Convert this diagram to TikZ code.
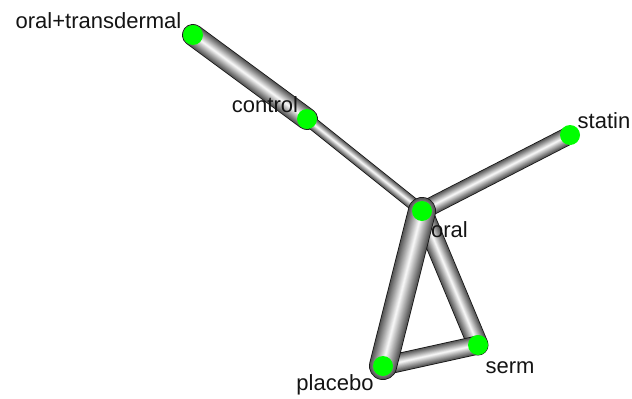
\documentclass[tikz,border=0pt]{standalone}
\usepackage{fontspec}
\setmainfont{Liberation Sans}
\pgfdeclarelayer{background}
\pgfsetlayers{background,main}

% A shaded tube between two named nodes: dark rim, then lighter and
% narrower strokes towards a bright centre line.
\newcommand\tubeedge[3]{%
  \begin{pgfonlayer}{background}
    \draw[tuberim, line width=#3pt] (#1.center) -- (#2.center);
    \foreach \k in {0,...,15}{%
      \pgfmathsetmacro\ww{(#3-1.6)*(1-\k/16)}%
      \pgfmathsetmacro\cc{34+\k*4.1}%
      \draw[line cap=round, line width=\ww pt, white!\cc!black]
        (#1.center) -- (#2.center);
    }
  \end{pgfonlayer}
}

\begin{document}
\begin{tikzpicture}[x=1pt, y=-1pt,
    vertex/.style={circle, fill={rgb,255:red,0;green,255;blue,0}, draw=none,
                   minimum size=20pt, inner sep=0pt},
    lbl/.style={anchor=base, inner sep=0pt, font=\fontsize{22}{24}\selectfont,
                text={rgb,255:red,20;green,20;blue,20}},
    tuberim/.style={line cap=round, draw={rgb,255:red,20;green,20;blue,20}}]
  \useasboundingbox (0,0) rectangle (632,399);

  % vertices
  \node[vertex] (ot)  at (193,35)  {};
  \node[vertex] (ctl) at (307,119) {};
  \node[vertex] (sta) at (570,135) {};
  \node[vertex] (ora) at (422,211) {};
  \node[vertex] (ser) at (478,345) {};
  \node[vertex] (pla) at (383,366) {};

  % labels
  \node[lbl] (lot)  at (98.5,28)  {oral+transdermal};
  \node[lbl] (lctl) at (265,112.5) {control};
  \node[lbl] (lsta) at (604,128)  {statin};
  \node[lbl] (lora) at (449.5,237) {oral};
  \node[lbl] (lser) at (510,373)  {serm};
  \node[lbl] (lpla) at (335,390.5) {placebo};

  % edges, width by weight
  \tubeedge{ot}{ctl}{22}
  \tubeedge{ctl}{ora}{12.5}
  \tubeedge{ora}{sta}{18}
  \tubeedge{ora}{ser}{21}
  \tubeedge{pla}{ser}{19}
  \tubeedge{ora}{pla}{28}
\end{tikzpicture}
\end{document}
